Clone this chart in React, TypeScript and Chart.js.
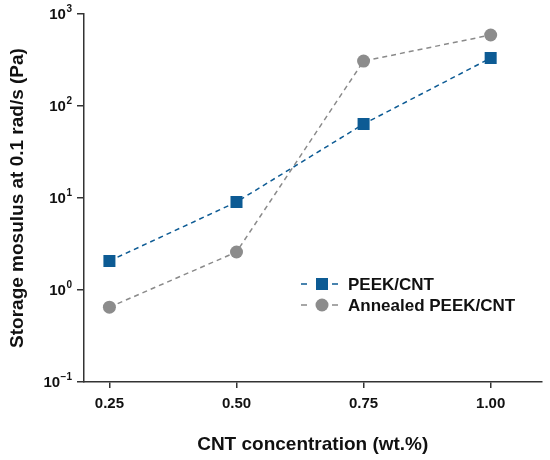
import React, { useEffect, useRef } from 'react';
import { Chart, registerables } from 'chart.js';

Chart.register(...registerables);

const concentrations = [0.25, 0.5, 0.75, 1.0];
const peekCnt = [2.07, 9.05, 63.7, 332];
const annealedPeekCnt = [0.65, 2.59, 308, 591];
const xTicks = [0.25, 0.5, 0.75, 1.0];
const yTicks = [0.1, 1, 10, 100, 1000];
const seriesLabels = ['PEEK/CNT', 'Annealed PEEK/CNT'];

const FONT = "'Liberation Sans', Arial, sans-serif";

// y tick labels as 10 with a raised exponent
const powerTicks = {
  id: 'powerTicks',
  afterDraw(chart: any) {
    const ctx = chart.ctx;
    const scale = chart.scales.y;
    const right = chart.chartArea.left - 12;
    ctx.save();
    ctx.fillStyle = '#111';
    ctx.textBaseline = 'middle';
    ctx.textAlign = 'left';
    yTicks.forEach((v) => {
      const y = scale.getPixelForValue(v);
      const e = Math.round(Math.log10(v));
      const expText = e < 0 ? '\u2212' + String(-e) : String(e);
      ctx.font = `bold 10px ${FONT}`;
      const ew = ctx.measureText(expText).width;
      ctx.fillText(expText, right - ew, y - 5);
      ctx.font = `bold 15px ${FONT}`;
      const bw = ctx.measureText('10').width;
      ctx.fillText('10', right - ew - bw - 0.5, y + 1);
    });
    ctx.restore();
  },
};

// legend drawn inside the plot, "- marker -  label"
const insideLegend = {
  id: 'insideLegend',
  afterDatasetsDraw(chart: any) {
    const ctx = chart.ctx;
    ctx.save();
    chart.data.datasets.forEach((ds: any, i: number) => {
      const y = 284 + i * 21;
      ctx.strokeStyle = ds.borderColor;
      ctx.lineWidth = 1.5;
      ctx.beginPath();
      ctx.moveTo(301, y);
      ctx.lineTo(307, y);
      ctx.moveTo(332, y);
      ctx.lineTo(338, y);
      ctx.stroke();
      ctx.fillStyle = ds.pointBackgroundColor;
      ctx.beginPath();
      if (ds.pointStyle === 'rect') {
        ctx.rect(316, y - 6, 12, 12);
      } else {
        ctx.arc(322, y, 6.5, 0, Math.PI * 2);
      }
      ctx.fill();
      ctx.fillStyle = '#111';
      ctx.font = `bold 17px ${FONT}`;
      ctx.textBaseline = 'middle';
      ctx.textAlign = 'left';
      ctx.fillText(ds.label, 348, y + 1);
    });
    ctx.restore();
  },
};

const App: React.FC = () => {
  const chartRef = useRef<HTMLCanvasElement>(null);
  const chartInstance = useRef<Chart | null>(null);

  useEffect(() => {
    if (chartInstance.current) {
      chartInstance.current.destroy();
    }
    if (chartRef.current) {
      const ctx = chartRef.current.getContext('2d');
      if (ctx) {
        // @ts-ignore
        chartInstance.current = new Chart(ctx, {
          type: 'line',
          data: {
            datasets: [
              {
                label: seriesLabels[0],
                data: concentrations.map((x, i) => ({ x, y: peekCnt[i] })),
                borderColor: '#0d5b94',
                backgroundColor: '#0d5b94',
                pointBackgroundColor: '#0d5b94',
                pointBorderWidth: 0,
                borderWidth: 1.5,
                borderDash: [5, 4],
                pointStyle: 'rect',
                pointRadius: 8.5,
              },
              {
                label: seriesLabels[1],
                data: concentrations.map((x, i) => ({ x, y: annealedPeekCnt[i] })),
                borderColor: '#8a8a8a',
                backgroundColor: '#8a8a8a',
                pointBackgroundColor: '#8c8c8c',
                pointBorderWidth: 0,
                borderWidth: 1.5,
                borderDash: [5, 4],
                pointStyle: 'circle',
                pointRadius: 6.5,
              },
            ],
          },
          options: {
            responsive: false,
            maintainAspectRatio: false,
            animation: false,
            layout: { padding: { left: 0, right: 8, top: 14, bottom: 0 } },
            plugins: {
              legend: { display: false },
              tooltip: { enabled: false },
            },
            scales: {
              x: {
                type: 'linear',
                min: 0.2,
                max: 1.1,
                afterBuildTicks: (scale: any) => {
                  scale.ticks = xTicks.map((v) => ({ value: v }));
                },
                afterFit: (scale: any) => {
                  scale.height = 78;
                },
                ticks: {
                  callback: (v: any) => Number(v).toFixed(2),
                  font: { family: FONT, size: 15, weight: 'bold' },
                  color: '#111',
                  padding: 7,
                  maxRotation: 0,
                },
                grid: { drawOnChartArea: false, drawTicks: true, tickLength: 6, color: '#333', lineWidth: 1.5 },
                border: { display: true, color: '#333', width: 1.5 },
                title: {
                  display: true,
                  text: 'CNT concentration (wt.%)',
                  font: { family: FONT, size: 19, weight: 'bold' },
                  color: '#111',
                  padding: { top: 0, bottom: 4 },
                },
              },
              y: {
                type: 'logarithmic',
                min: 0.1,
                max: 1000,
                afterBuildTicks: (scale: any) => {
                  scale.ticks = yTicks.map((v) => ({ value: v }));
                },
                afterFit: (scale: any) => {
                  scale.width = 84;
                },
                ticks: { display: false },
                grid: { drawOnChartArea: false, drawTicks: true, tickLength: 7, color: '#333', lineWidth: 1.5 },
                border: { display: true, color: '#333', width: 1.5 },
                title: {
                  display: true,
                  text: 'Storage mosulus at 0.1 rad/s (Pa)',
                  font: { family: FONT, size: 19, weight: 'bold' },
                  color: '#111',
                  padding: { top: 6, bottom: 0 },
                },
              },
            },
          },
          plugins: [insideLegend, powerTicks],
        });
      }
    }
    return () => {
      if (chartInstance.current) {
        chartInstance.current.destroy();
      }
    };
  }, []);

  return (
    <div style={{ position: 'absolute', left: 0, top: 0, width: 550, height: 460, background: '#fff' }}>
      <canvas ref={chartRef} width={550} height={460}></canvas>
    </div>
  );
};

export default App;
